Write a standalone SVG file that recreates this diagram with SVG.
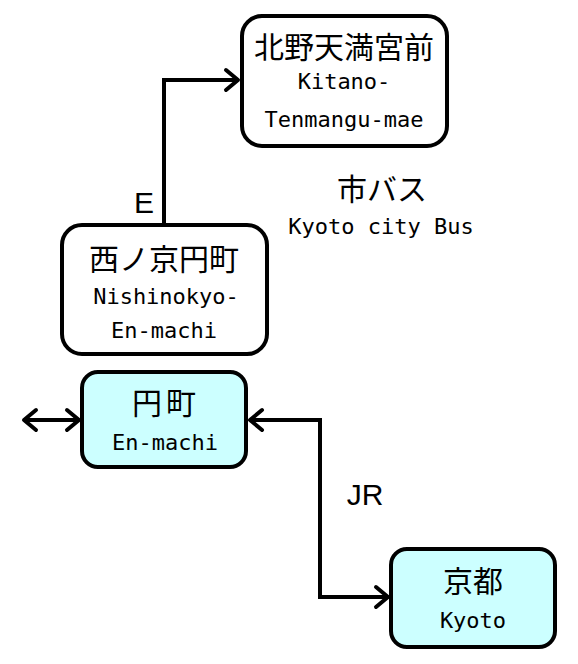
<svg xmlns="http://www.w3.org/2000/svg" width="578" height="664" viewBox="0 0 578 664">
<defs>
<style>
.box{stroke:#000;stroke-width:4}
.w{fill:#fff}
.c{fill:#ccffff}
.jp{font-family:"Noto Sans CJK JP","Noto Sans CJK SC",sans-serif;font-size:30px;fill:#000;text-anchor:middle}
.en{font-family:"DejaVu Sans Mono","Liberation Mono",monospace;font-size:22px;fill:#000;text-anchor:middle}
.lbl{font-family:"Liberation Sans",Arial,sans-serif;font-size:30px;fill:#000;text-anchor:middle}
.line{fill:none;stroke:#000;stroke-width:4;stroke-linejoin:miter}
</style>
<marker id="arr" viewBox="-16 -13 19 26" refX="0" refY="0" markerWidth="19" markerHeight="26" markerUnits="userSpaceOnUse" orient="auto-start-reverse">
<path d="M -12 -10 L 0 0 L -12 10" fill="none" stroke="#000" stroke-width="4" stroke-linecap="round" stroke-linejoin="round"/>
</marker>
</defs>
<rect width="578" height="664" fill="#fff"/>
<g id="connectors">
<path class="line" d="M 164 223 V 80 H 238" marker-end="url(#arr)"/>
<path class="line" d="M 24 420 H 79" marker-start="url(#arr)" marker-end="url(#arr)"/>
<path class="line" d="M 250 420 H 320 V 597 H 388" marker-start="url(#arr)" marker-end="url(#arr)"/>
<text class="lbl" x="144" y="213">E</text>
<text class="lbl" x="365" y="505">JR</text>
</g>
<g id="kitano">
<rect class="box w" x="242" y="16" width="205" height="130" rx="20"/>
<text class="jp" x="344" y="58">北野天満宮前</text>
<text class="en" x="344" y="89">Kitano-</text>
<text class="en" x="344" y="127">Tenmangu-mae</text>
</g>
<g id="nishinokyo">
<rect class="box w" x="62" y="225" width="205" height="129" rx="20"/>
<text class="jp" x="164" y="270">西ノ京円町</text>
<text class="en" x="166" y="304">Nishinokyo-</text>
<text class="en" x="164" y="338">En-machi</text>
</g>
<g id="bus">
<text class="jp" x="382" y="200">市バス</text>
<text class="en" x="381" y="234">Kyoto city Bus</text>
</g>
<g id="enmachi">
<rect class="box c" x="82" y="372" width="164" height="95" rx="16"/>
<text class="jp" x="166" y="414" letter-spacing="4">円町</text>
<text class="en" x="165" y="450">En-machi</text>
</g>
<g id="kyoto">
<rect class="box c" x="391" y="549" width="164" height="98" rx="16"/>
<text class="jp" x="473" y="592">京都</text>
<text class="en" x="473" y="628">Kyoto</text>
</g>
</svg>
